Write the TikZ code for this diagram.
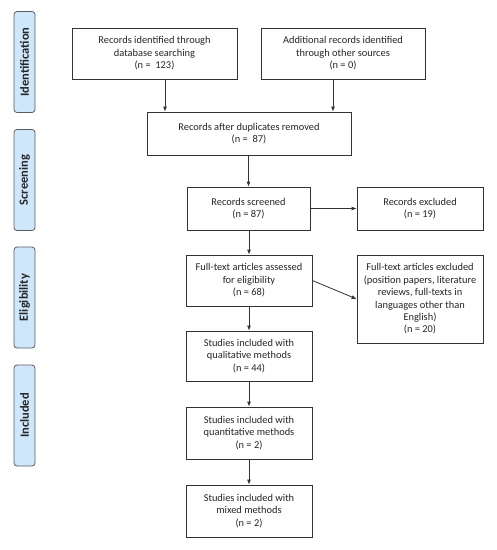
\documentclass[tikz,border=0pt]{standalone}
\usepackage{fontspec}
\setmainfont{Carlito}
\usetikzlibrary{arrows.meta,calc}
\definecolor{phasefill}{HTML}{CFE7FB}
\definecolor{lineclr}{HTML}{333333}
\tikzset{
  box/.style={draw=lineclr, line width=0.8pt, fill=white, align=center, inner sep=2pt,
    font=\fontsize{10.4}{12.4}\selectfont, text=black!85},
  phase/.style={draw=lineclr!80, line width=0.8pt, fill=phasefill, rounded corners=3pt,
    minimum width=101pt, minimum height=21pt, rotate=90, inner sep=0pt,
    font=\fontsize{12.5}{14}\selectfont\bfseries, text=black!85},
  arr/.style={draw=lineclr, line width=0.8pt, -{Latex[length=5pt,width=4pt]}}
}
\begin{document}
\begin{tikzpicture}[x=1pt,y=-1pt]
\useasboundingbox[fill=white] (0,0) rectangle (497,550);
% phase labels
\node[phase] (p1) at (24.5,62) {Identification};
\node[phase] (p2) at (24.5,180) {Screening};
\node[phase] (p3) at (24.5,297.5) {Eligibility};
\node[phase] (p4) at (24.5,415.5) {Included};
% boxes
\node[box, minimum width=165pt, minimum height=51pt] (b1) at (154.5,53.5)
  {Records identified through\\database searching\\(n =\ \ 123)};
\node[box, minimum width=164pt, minimum height=51pt] (b2) at (343,53.5)
  {Additional records identified\\through other sources\\(n =\ 0)};
\node[box, minimum width=204pt, minimum height=43pt] (b3) at (249,133.5)
  {Records after duplicates removed\\(n =\ \ 87)};
\node[box, minimum width=123pt, minimum height=43pt] (b4) at (248.5,208.5)
  {Records screened\\(n = 87)};
\node[box, minimum width=126pt, minimum height=43pt] (b5) at (420,208.5)
  {Records excluded\\(n = 19)};
\node[box, minimum width=126pt, minimum height=51pt] (b6) at (249,280.5)
  {Full-text articles assessed\\for eligibility\\(n = 68)};
\node[box, minimum width=126pt, minimum height=88pt] (b7) at (420,299)
  {Full-text articles excluded\\(position papers, literature\\reviews, full-texts in\\languages other than\\English)\\(n = 20)};
\node[box, minimum width=126pt, minimum height=50pt] (b8) at (249,356)
  {Studies included with\\qualitative methods\\(n = 44)};
\node[box, minimum width=126pt, minimum height=52pt] (b9) at (249,433)
  {Studies included with\\quantitative methods\\(n = 2)};
\node[box, minimum width=126pt, minimum height=52pt] (b10) at (249,511)
  {Studies included with\\mixed methods\\(n = 2)};
% connectors
\draw[arr] ([xshift=10.5pt]b1.south) -- ([xshift=10.5pt]b1.south |- b3.north);
\draw[arr] ([xshift=-10pt]b2.south) -- ([xshift=-10pt]b2.south |- b3.north);
\draw[arr] (b3.south -| b4.north) -- (b4.north);
\draw[arr] (b4.east) -- (b5.west);
\draw[arr] (b4.south -| b6.north) -- (b6.north);
\draw[arr] (b6.east) -- (b7.west);
\draw[arr] (b6.south) -- (b8.north);
\draw[arr] (b8.south) -- (b9.north);
\draw[arr] (b9.south) -- (b10.north);
\end{tikzpicture}
\end{document}
